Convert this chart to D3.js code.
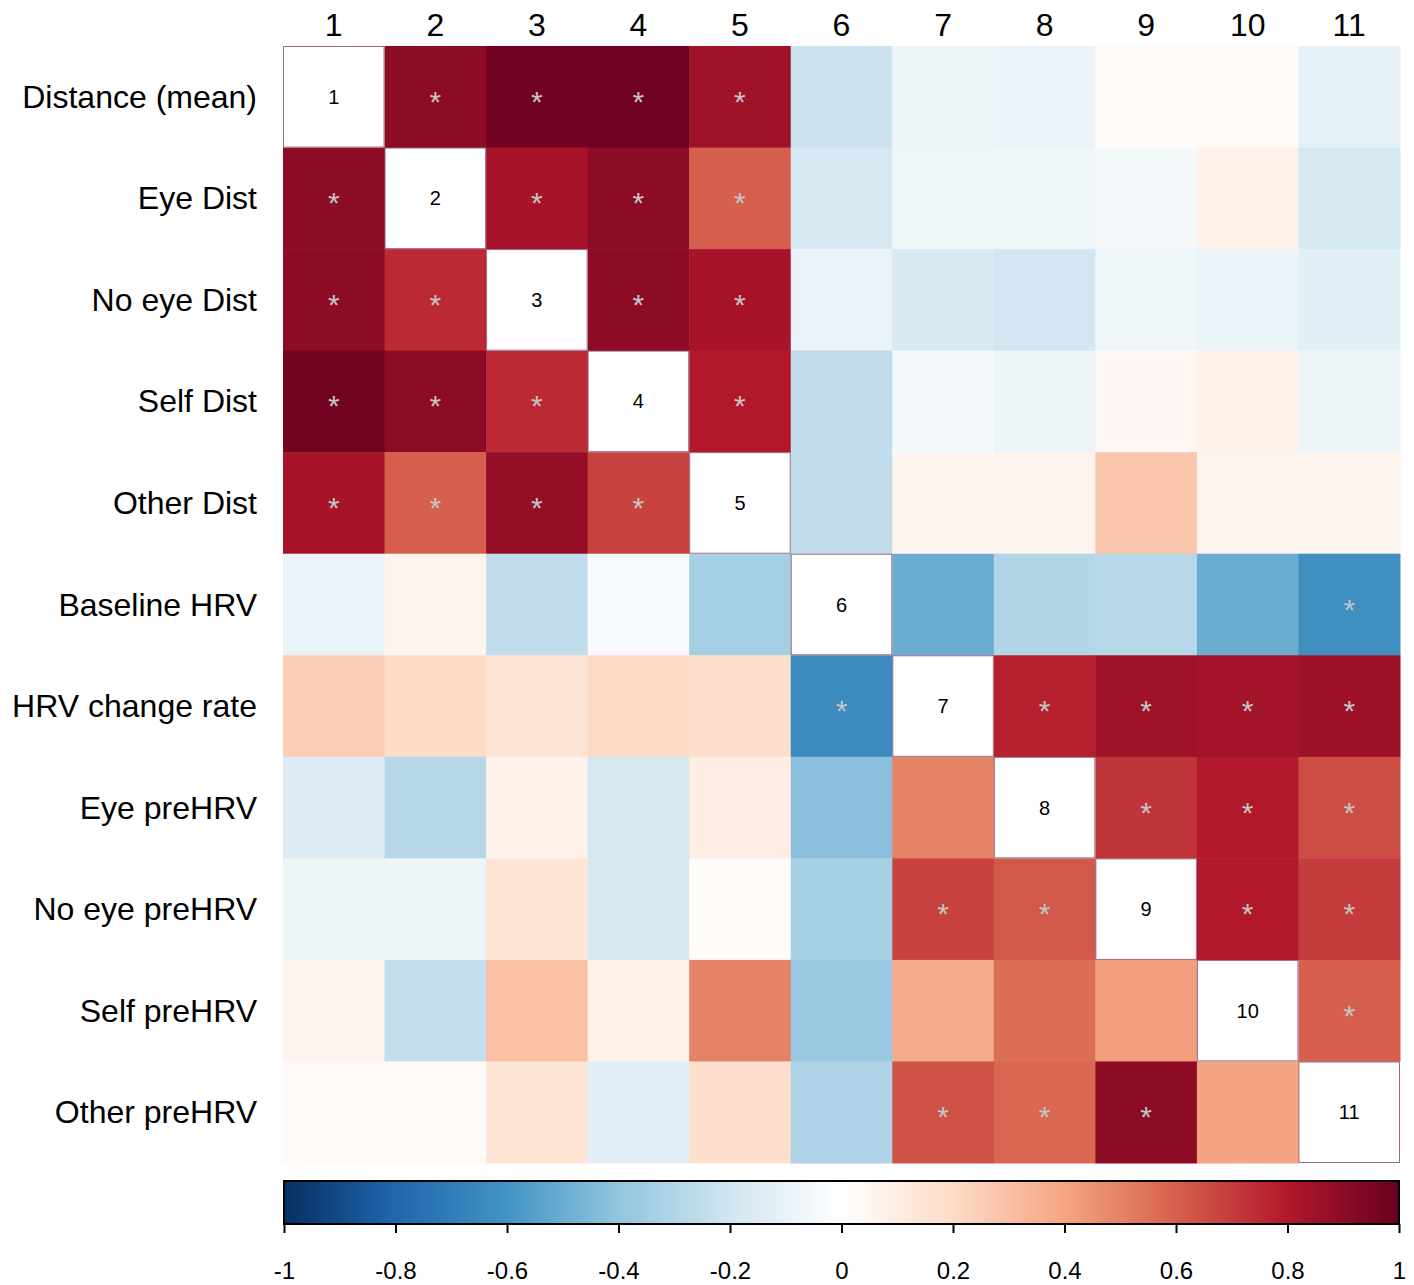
<!DOCTYPE html>
<html><head><meta charset="utf-8">
<script src="https://cdn.jsdelivr.net/npm/d3@7"></script>
<style>body{margin:0;background:#fff;} text{font-family:"Liberation Sans",Arial,sans-serif;}</style>
</head><body>
<svg id="c" width="1414" height="1285"></svg>
<script>
const rowLabels = ["Distance (mean)","Eye Dist","No eye Dist","Self Dist","Other Dist","Baseline HRV","HRV change rate","Eye preHRV","No eye preHRV","Self preHRV","Other preHRV"];
const colLabels = ["1","2","3","4","5","6","7","8","9","10","11"];
const values = [
 [1, 0.90, 0.98, 0.98, 0.85, -0.22, -0.08, -0.09, 0.03, 0.03, -0.11],
 [0.90, 1, 0.83, 0.90, 0.60, -0.18, -0.07, -0.07, -0.05, 0.08, -0.18],
 [0.90, 0.75, 1, 0.90, 0.83, -0.09, -0.16, -0.19, -0.07, -0.09, -0.12],
 [0.97, 0.90, 0.75, 1, 0.80, -0.25, -0.05, -0.08, 0.04, 0.07, -0.08],
 [0.83, 0.60, 0.88, 0.68, 1, -0.25, 0.05, 0.06, 0.28, 0.06, 0.06],
 [-0.09, 0.06, -0.25, -0.03, -0.34, 1, -0.50, -0.30, -0.28, -0.50, -0.62],
 [0.25, 0.20, 0.15, 0.20, 0.18, -0.64, 1, 0.78, 0.85, 0.84, 0.86],
 [-0.15, -0.29, 0.07, -0.18, 0.10, -0.42, 0.50, 1, 0.72, 0.80, 0.65],
 [-0.08, -0.08, 0.15, -0.18, 0.02, -0.34, 0.68, 0.62, 1, 0.80, 0.70],
 [0.06, -0.24, 0.30, 0.07, 0.50, -0.38, 0.38, 0.56, 0.42, 1, 0.60],
 [0.03, 0.03, 0.15, -0.12, 0.18, -0.31, 0.64, 0.58, 0.90, 0.40, 1]
];
const signif = [
 [0,1,1,1,1,0,0,0,0,0,0],
 [1,0,1,1,1,0,0,0,0,0,0],
 [1,1,0,1,1,0,0,0,0,0,0],
 [1,1,1,0,1,0,0,0,0,0,0],
 [1,1,1,1,0,0,0,0,0,0,0],
 [0,0,0,0,0,0,0,0,0,0,1],
 [0,0,0,0,0,1,0,1,1,1,1],
 [0,0,0,0,0,0,0,0,1,1,1],
 [0,0,0,0,0,0,1,1,0,1,1],
 [0,0,0,0,0,0,0,0,0,0,1],
 [0,0,0,0,0,0,1,1,1,0,0]
];
const legendTicks = [-1,-0.8,-0.6,-0.4,-0.2,0,0.2,0.4,0.6,0.8,1];
const paletteStops = ["#053061","#2166AC","#4393C3","#92C5DE","#D1E5F0","#FFFFFF","#FDDBC7","#F4A582","#D6604D","#B2182B","#67001F"];

const svg = d3.select("#c");
const color = d3.scaleLinear().domain(legendTicks).range(paletteStops).interpolate(d3.interpolateRgb);
const x = d3.scaleBand().domain(d3.range(11)).range([283,1400]);
const y = d3.scaleBand().domain(d3.range(11)).range([46,1163]);

const cells = [];
values.forEach((row,i)=>row.forEach((v,j)=>cells.push({i,j,v,s:signif[i][j]})));

svg.append("g").selectAll("rect").data(cells.filter(d=>d.i!==d.j)).join("rect")
  .attr("x",d=>x(d.j)).attr("y",d=>y(d.i))
  .attr("width",x.bandwidth()+0.5).attr("height",y.bandwidth()+0.5)
  .attr("fill",d=>color(d.v));

svg.append("g").selectAll("rect").data(cells.filter(d=>d.i===d.j)).join("rect")
  .attr("x",d=>x(d.j)+0.5).attr("y",d=>y(d.i)+0.5)
  .attr("width",x.bandwidth()-1).attr("height",y.bandwidth()-1)
  .attr("fill","#fff").attr("stroke","#9b6a84").attr("stroke-width",1);

svg.append("g").selectAll("text").data(cells.filter(d=>d.i===d.j)).join("text")
  .attr("x",d=>x(d.j)+x.bandwidth()/2).attr("y",d=>y(d.i)+y.bandwidth()/2+7)
  .attr("text-anchor","middle").attr("font-size",20).attr("fill","#000")
  .text(d=>colLabels[d.i]);

svg.append("g").selectAll("text").data(cells.filter(d=>d.s)).join("text")
  .attr("x",d=>x(d.j)+x.bandwidth()/2).attr("y",d=>y(d.i)+y.bandwidth()/2+15)
  .attr("text-anchor","middle").attr("font-size",30).attr("fill","#c4c4c4")
  .text("*");

svg.append("g").selectAll("text").data(colLabels).join("text")
  .attr("x",(d,i)=>x(i)+x.bandwidth()/2).attr("y",36)
  .attr("text-anchor","middle").attr("font-size",32).attr("fill","#000").text(d=>d);

svg.append("g").selectAll("text").data(rowLabels).join("text")
  .attr("x",257).attr("y",(d,i)=>y(i)+y.bandwidth()/2+11)
  .attr("text-anchor","end").attr("font-size",32).attr("fill","#000").text(d=>d);

// legend
const lx = d3.scaleLinear().domain([-1,1]).range([284,1399]);
const defs = svg.append("defs");
const grad = defs.append("linearGradient").attr("id","g1");
d3.range(0,201).forEach(k=>{
  const v=-1+k*0.01;
  grad.append("stop").attr("offset",(k/200*100)+"%").attr("stop-color",color(v));
});
svg.append("rect").attr("x",284).attr("y",1181).attr("width",1115).attr("height",43)
  .attr("fill","url(#g1)").attr("stroke","#000").attr("stroke-width",2);
const ax = svg.append("g").attr("transform","translate(0,1224)")
  .call(d3.axisBottom(lx).tickValues(legendTicks).tickSize(9).tickSizeOuter(0).tickFormat(d=>String(+d.toFixed(1))));
ax.select(".domain").remove();
ax.selectAll(".tick line").attr("stroke","#000").attr("stroke-width",2);
ax.selectAll(".tick text").attr("font-size",24).attr("fill","#000").attr("y",38)
  .attr("font-family","Liberation Sans, Arial, sans-serif");
</script>
</body></html>
